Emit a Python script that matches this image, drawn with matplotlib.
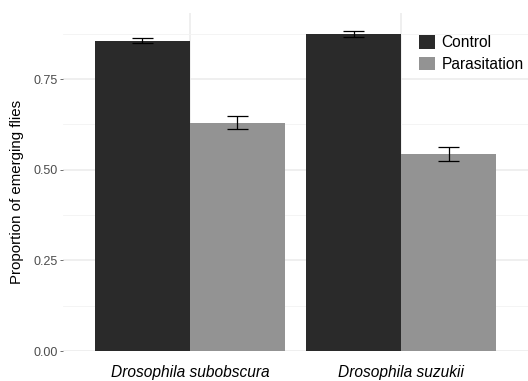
import numpy as np
import matplotlib
matplotlib.use("Agg")
import matplotlib.pyplot as plt
from matplotlib.patches import Patch

plt.rcParams['font.family'] = ['Liberation Sans', 'DejaVu Sans']

# ========= data =========
species = ["Drosophila subobscura", "Drosophila suzukii"]
treatments = ["Control", "Parasitation"]
means = {"Control": [0.856, 0.874], "Parasitation": [0.630, 0.544]}
err_lo = {"Control": [0.849, 0.865], "Parasitation": [0.611, 0.525]}
err_hi = {"Control": [0.863, 0.883], "Parasitation": [0.647, 0.562]}
colors = {"Control": "#2a2a2a", "Parasitation": "#939393"}

W, H = 528, 381
fig = plt.figure(figsize=(W / 100, H / 100), dpi=100)
ax = fig.add_axes([63 / W, 1 - 351 / H, (W - 63) / W, (351 - 13) / H])

x = np.arange(1, len(species) + 1)
bw = 0.45
for i, t in enumerate(treatments):
    xs = x + (i - 0.5) * bw
    ax.bar(xs, means[t], width=bw, color=colors[t], zorder=2, linewidth=0)
    lo = np.array(err_lo[t]); hi = np.array(err_hi[t])
    ax.vlines(xs, lo, hi, color="black", linewidth=0.9, zorder=3)
    ax.hlines(lo, xs - 0.05, xs + 0.05, color="black", linewidth=0.9, zorder=3)
    ax.hlines(hi, xs - 0.05, xs + 0.05, color="black", linewidth=0.9, zorder=3)

ax.set_xlim(0.4, 2.6)
ax.set_ylim(0, 0.932)

# grid (theme_minimal look)
ax.set_yticks([0, 0.25, 0.5, 0.75])
ax.set_yticklabels(["0.00", "0.25", "0.50", "0.75"])
ax.set_yticks([0.125, 0.375, 0.625, 0.875], minor=True)
ax.set_xticks(x)
ax.set_xticklabels(species, fontstyle="italic", fontsize=11.2, color="black")
ax.grid(True, which="major", color="#ebebeb", linewidth=1.1, zorder=0)
ax.grid(True, which="minor", axis="y", color="#f3f3f3", linewidth=0.6, zorder=0)
ax.set_axisbelow(True)
for s in ax.spines.values():
    s.set_visible(False)
ax.tick_params(axis="y", which="major", length=2, width=0.6, color="#555555",
               labelsize=9, labelcolor="#4d4d4d", pad=2)
ax.tick_params(axis="y", which="minor", length=0)
ax.tick_params(axis="x", length=0, pad=10)

ax.set_ylabel("Proportion of emerging flies", fontsize=10.8)
ax.yaxis.set_label_coords(-0.084, 0.47)

handles = [Patch(facecolor=colors[t], edgecolor="none") for t in treatments]
fig.legend(handles, treatments, loc="upper left",
           bbox_to_anchor=(419 / W, 1 - 35 / H), frameon=False,
           fontsize=11.2, handlelength=1.0, handleheight=1.0,
           handletextpad=0.45, labelspacing=0.4, borderpad=0, borderaxespad=0)

fig.savefig("out.png", dpi=100)
